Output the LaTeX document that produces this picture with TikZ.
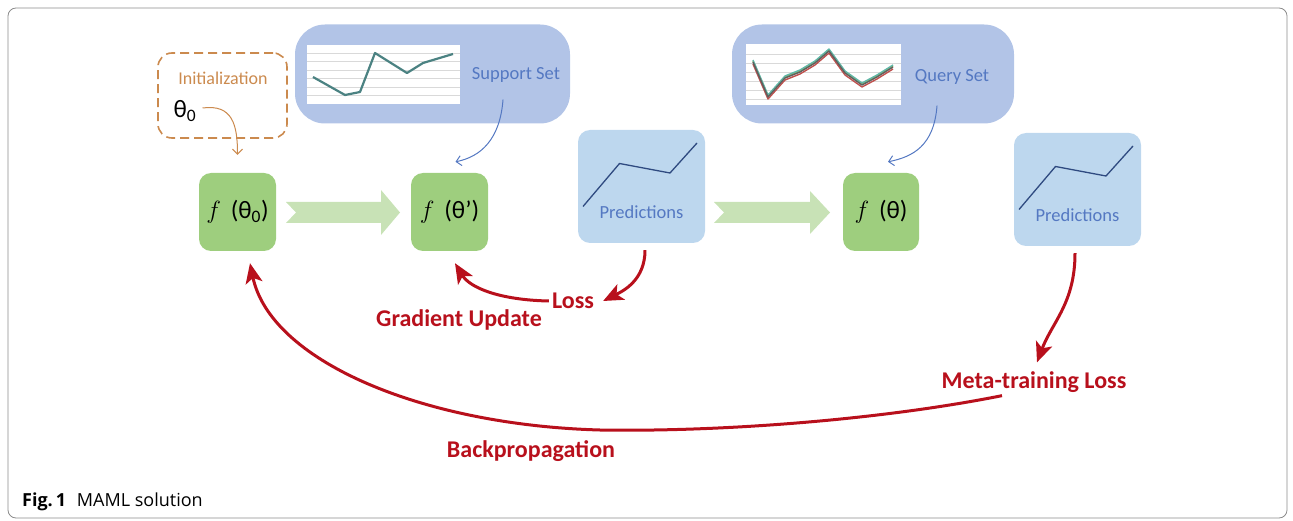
\documentclass[tikz,border=0pt]{standalone}
\usepackage{fontspec}
\setmainfont{Carlito}
\newfontfamily\capfont{Open Sans}
\usetikzlibrary{arrows.meta,positioning}
\definecolor{fgreen}{HTML}{9ECE7E}
\definecolor{fatgreen}{HTML}{C8E2B6}
\definecolor{setblue}{HTML}{B2C4E7}
\definecolor{predblue}{HTML}{BDD7EE}
\definecolor{txtblue}{HTML}{5478C2}
\definecolor{lineblue}{HTML}{2F4A80}
\definecolor{mred}{HTML}{B8101C}
\definecolor{orng}{HTML}{CB8A4E}
\definecolor{gridgray}{HTML}{D9D9D9}
\definecolor{framegray}{HTML}{8C8C8C}
\definecolor{steal}{HTML}{4B8282}
\definecolor{qteal}{HTML}{5FB8A8}
\definecolor{qred}{HTML}{C0504D}
\definecolor{qgreen}{HTML}{9BBB59}
\definecolor{qgray}{HTML}{5F5F5F}
\begin{document}
\begin{tikzpicture}[x=1pt, y=-1pt,
    fbox/.style = {fill=fgreen, rounded corners=12pt, minimum width=77pt, minimum height=78pt, font=\fontsize{25}{27}\selectfont},
    predbox/.style = {fill=predblue, rounded corners=12pt, minimum width=127pt, minimum height=113pt},
    setblob/.style = {fill=setblue, rounded corners=30pt, minimum height=99pt},
    bluetxt/.style = {text=txtblue, font=\fontsize{18.5}{20}\selectfont, inner sep=0pt},
    redtxt/.style = {text=mred, font=\bfseries\fontsize{24}{26}\selectfont, inner sep=0pt},
    redarr/.style = {draw=mred, line width=3pt, -{Stealth[length=20pt,width=17pt,inset=5pt]}},
    thinarr/.style = {line width=1pt, -{Straight Barb[length=5pt,width=10pt]}},
    fatarr/.style = {fill=fatgreen}]
    \useasboundingbox (0,0) rectangle (1293,521);
    \draw[framegray, line width=0.8pt, rounded corners=8pt] (8,8) rectangle (1287,518);

    % initialization
    \node[draw=orng, dash pattern=on 9pt off 5pt, line width=1.6pt, rounded corners=14pt,
          minimum width=129pt, minimum height=85pt] (init) at (222.5,95.5) {};
    \node[text=orng, font=\fontsize{18}{20}\selectfont, inner sep=0pt] (initlbl) at (223,78) {Initialization};
    \node[font=\fontsize{25}{27}\selectfont, inner sep=0pt] (theta) at (185,111) {θ\textsubscript{0}};

    % support and query sets
    \node[setblob, minimum width=275pt] (support) at (432.5,74) {};
    \node[setblob, minimum width=282pt] (query) at (873,74) {};
    \fill[white] (307,45) rectangle (460,104);
    \fill[white] (746,44) rectangle (901,105);
    \foreach \y in {53,61,70,78,87,95}
        \draw[gridgray, line width=0.8pt] (307,\y) -- (460,\y);
    \foreach \y in {54,63,72,81,90,99}
        \draw[gridgray, line width=0.8pt] (746,\y) -- (901,\y);
    \draw[steal, line width=2.2pt, line join=round] (313,77) -- (345,95) -- (360,92) -- (375,53)
        -- (407,73) -- (423,63) -- (453,54);
    \foreach \c/\s in {qgreen/1, qred/-2, qteal/2, qgray/0}
        \draw[\c, line width=1.4pt, line join=round, yshift=\s pt] (753,62) -- (768,97) -- (785,78)
            -- (800,72) -- (815,63) -- (829,51) -- (845,73) -- (862,85) -- (877,77) -- (893,67);
    \node[bluetxt] (suplbl) at (516,75) {Support Set};
    \node[bluetxt] (qrylbl) at (952,77) {Query Set};

    % models
    \node[fbox] (f0) at (237.5,212) {$f$\ \,(θ\textsubscript{0})};
    \node[fbox] (f1) at (449.5,212) {$f$\ \,(θ')};
    \node[fbox, minimum width=76pt] (f2) at (881,212) {$f$\ \,(θ)};

    % predictions
    \node[predbox] (pred1) at (641.5,186.5) {};
    \node[predbox] (pred2) at (1077.5,189.5) {};
    \foreach \p in {pred1,pred2} {
        \draw[lineblue, line width=1.3pt, shift={(\p.center)}] (-58.5,20) -- (-22,-23) -- (28.5,-13.5) -- (55.5,-43.5);
        \node[bluetxt] (\p lbl) at ([yshift=-26pt]\p.center) {Predictions};
    }

    % fat arrows
    \fill[fatarr] (286,202) -- (381,202) -- (381,190) -- (400,212.5) -- (381,235) -- (381,223)
        -- (286,223) -- (296,212.5) -- cycle;
    \fill[fatarr] (714,202) -- (810,202) -- (810,191) -- (830,212.5) -- (810,234) -- (810,223)
        -- (714,223) -- (724,212.5) -- cycle;

    % thin arrows
    \draw[thinarr, orng] ([xshift=6pt,yshift=3pt]theta.east) .. controls +(30,-4) and +(0,-30) .. ([yshift=18pt]f0.north);
    \draw[thinarr, txtblue] ([xshift=-13pt,yshift=-17pt]suplbl.south) .. controls +(-3,40) and +(25,-5) .. ([shift={(6pt,11pt)}]f1.north);
    \draw[thinarr, txtblue] ([xshift=-15pt,yshift=-21pt]qrylbl.south) .. controls +(-3,40) and +(25,-5) .. ([shift={(7pt,11pt)}]f2.north);

    % losses
    \node[redtxt] (loss) at (573,301) {Loss};
    \node[redtxt] (gradupd) at (459,320) {Gradient Update};
    \node[redtxt] (metaloss) at (1034,382) {Meta-training Loss};
    \node[redtxt] (backprop) at (531,451) {Backpropagation};
    \draw[redarr] ([shift={(3.5pt,-7pt)}]pred1.south) .. controls +(0,30) and +(20,-10) .. ([xshift=9pt]loss.east);
    \draw[redarr] ([xshift=-3pt]loss.west) .. controls (500,300) and (470,288) .. ([shift={(5.5pt,-12pt)}]f1.south);
    \draw[redarr] ([shift={(-2.5pt,-7pt)}]pred2.south) .. controls +(0,50) and +(15,-40) .. ([shift={(3pt,9pt)}]metaloss.north);
    \draw[redarr] ([shift={(-32pt,-3pt)}]metaloss.south) .. controls (880,420) and (720,432) .. (600,430)
        .. controls (420,425) and (270,360) .. ([shift={(12.5pt,-12pt)}]f0.south);

    % caption
    \node[anchor=west, inner sep=0pt, font=\capfont\fontsize{18}{20}\selectfont] (caption) at (22,502)
        {\textbf{Fig.\,1}\hspace{0.6em}MAML solution};
\end{tikzpicture}
\end{document}
